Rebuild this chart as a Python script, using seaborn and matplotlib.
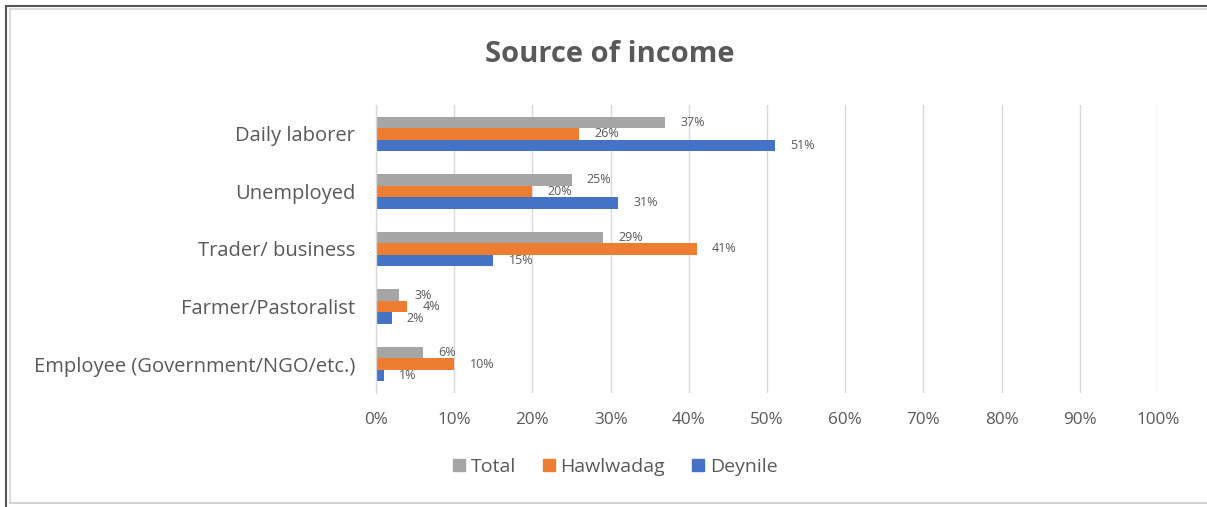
import matplotlib
matplotlib.use("Agg")
import matplotlib.pyplot as plt
from matplotlib.lines import Line2D
import seaborn as sns
import pandas as pd

categories = ["Daily laborer", "Unemployed", "Trader/ business",
              "Farmer/Pastoralist", "Employee (Government/NGO/etc.)"]
series = ["Total", "Hawlwadag", "Deynile"]
total = [37, 25, 29, 3, 6]
hawlwadag = [26, 20, 41, 4, 10]
deynile = [51, 31, 15, 2, 1]
x_ticks = [0, 10, 20, 30, 40, 50, 60, 70, 80, 90, 100]
x_tick_labels = [f"{t}%" for t in x_ticks]

colors = {"Total": "#A5A5A5", "Hawlwadag": "#ED7D31", "Deynile": "#4472C4"}
text_color = "#595959"

df = pd.DataFrame({
    "category": categories * 3,
    "series": ["Total"] * 5 + ["Hawlwadag"] * 5 + ["Deynile"] * 5,
    "value": total + hawlwadag + deynile,
})

sns.set_theme(style="white")
plt.rcParams["font.family"] = ["Open Sans", "DejaVu Sans"]

W, H = 1207, 507
fig = plt.figure(figsize=(W / 100, H / 100), dpi=100)
ax = fig.add_axes([376 / W, 1 - 393 / H, (1158 - 376) / W, (393 - 105) / H])

sns.barplot(data=df, y="category", x="value", hue="series",
            order=categories, hue_order=series, palette=colors,
            orient="h", width=0.6, ax=ax, legend=False,
            saturation=1, edgecolor="none")

for container, name in zip(ax.containers, series):
    vals = df.loc[df["series"] == name, "value"].tolist()
    ax.bar_label(container, labels=[f"{v}%" for v in vals], padding=11,
                 fontsize=9, color=text_color)

ax.set_xlim(0, 100)
ax.set_xticks(x_ticks)
ax.set_xticklabels(x_tick_labels, fontsize=12.3, color=text_color)
ax.tick_params(axis="y", labelsize=14.5, colors=text_color, length=0, pad=15)
ax.tick_params(axis="x", length=0, pad=14)
ax.set_xlabel("")
ax.set_ylabel("")
ax.xaxis.grid(True, color="#D9D9D9", linewidth=1)
ax.set_axisbelow(True)
for side in ["top", "right", "bottom"]:
    ax.spines[side].set_visible(False)
ax.spines["left"].set_color("#D9D9D9")
ax.spines["left"].set_linewidth(1)

fig.text(0.505, 1 - 55 / H, "Source of income", ha="center", va="center",
         fontsize=21, fontweight="bold", color=text_color)

handles = [Line2D([0], [0], marker="s", linestyle="none", markersize=9,
                  markerfacecolor=colors[s], markeredgecolor=colors[s])
           for s in series]
fig.legend(handles, series, loc="center", bbox_to_anchor=(0.508, 1 - 467 / H),
           ncol=3, frameon=False, fontsize=14, labelcolor=text_color,
           handletextpad=0.1, columnspacing=1.2, handlelength=1.0)

# outer frame: dark top/left edge, light inner edge and bottom
frame = [
    ((6, 1207), (6, 6), "#555555"),
    ((6, 6), (6, 507), "#555555"),
    ((10, 1207), (9, 9), "#DDDDDD"),
    ((10, 10), (9, 503), "#DDDDDD"),
    ((10, 1207), (503, 503), "#D4D4D4"),
]
for xs, ys, c in frame:
    fig.lines.append(Line2D([x / W for x in xs], [1 - y / H for y in ys],
                            transform=fig.transFigure, color=c, linewidth=1.5))

fig.savefig("out.png", dpi=100, facecolor="white")
